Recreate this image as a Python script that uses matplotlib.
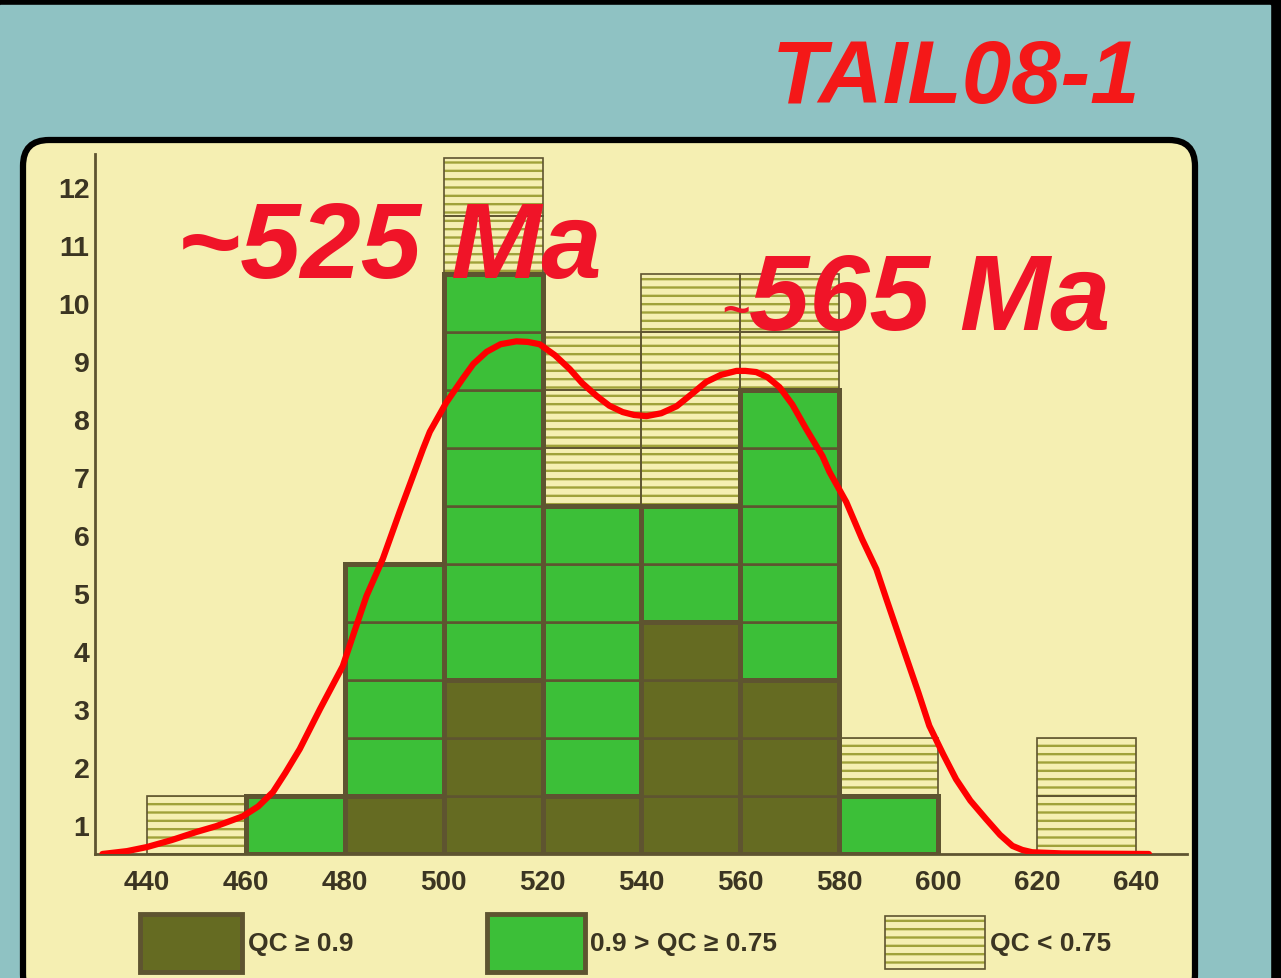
import matplotlib.pyplot as plt
from matplotlib.patches import FancyBboxPatch, Rectangle

# histogram bins (left edges, Ma) and counts per quality class
bin_left = [440, 460, 480, 500, 520, 540, 560, 580, 600, 620]
qc_high = [0, 0, 1, 3, 1, 4, 3, 0, 0, 0]   # QC >= 0.9
qc_mid = [0, 1, 4, 7, 5, 2, 5, 1, 0, 0]    # 0.9 > QC >= 0.75
qc_low = [1, 0, 0, 2, 3, 4, 2, 1, 0, 2]    # QC < 0.75
bin_width = 20

# probability density curve
kde_age = [431, 436, 440, 445, 450, 454, 459.4, 462.5, 465.5, 468, 470.9, 475, 479.6,
           482, 484.4, 487.7, 491.1, 493.5, 495.8, 497.2, 500.5, 503.8, 506, 508.7,
           511.5, 514.7, 517, 519.4, 522.5, 525.5, 528, 530.9, 533.5, 536.2, 538.5,
           541, 544, 547.1, 550, 553.1, 556, 559.2, 561, 563.2, 565.5, 567.9, 570.5,
           573.3, 576.6, 578, 581.4, 584.6, 587.5, 589.5, 593.5, 596, 598.2, 601,
           603.6, 606.5, 609.7, 612.5, 615, 617, 619, 625, 642.6]
kde_count = [0.0, 0.05, 0.12, 0.24, 0.38, 0.48, 0.65, 0.82, 1.07, 1.4, 1.81, 2.5, 3.24,
             3.85, 4.45, 5.09, 5.9, 6.45, 6.98, 7.28, 7.78, 8.19, 8.45, 8.66,
             8.79, 8.84, 8.83, 8.79, 8.6, 8.36, 8.12, 7.9, 7.73, 7.62, 7.57,
             7.55, 7.6, 7.72, 7.92, 8.14, 8.26, 8.33, 8.33, 8.31, 8.22, 8.05, 7.75,
             7.33, 6.86, 6.59, 6.07, 5.43, 4.91, 4.4, 3.4, 2.78, 2.21, 1.72,
             1.29, 0.92, 0.6, 0.33, 0.14, 0.07, 0.03, 0.01, 0.0]

x_ticks = [440, 460, 480, 500, 520, 540, 560, 580, 600, 620, 640]
y_labels = [str(i) for i in range(1, 13)]
legend_labels = ["QC \u2265 0.9", "0.9 > QC \u2265 0.75", "QC < 0.75"]

TEAL = "#8fc2c3"
PANEL = "#f5efb2"
EDGE = "#5e5430"
DARK = "#656b22"
GREEN = "#3cbf38"
HATCH = "#a0a23a"
TXT = "#3b3522"
RED = "#f01428"

plt.rcParams["hatch.linewidth"] = 1.7
plt.rcParams["font.family"] = ["Liberation Sans", "DejaVu Sans"]

W, H = 1281, 979
fig = plt.figure(figsize=(W / 100, H / 100), dpi=100)
fig.patch.set_facecolor("black")

# background: teal page with rounded yellow panel
bg = fig.add_axes([0, 0, 1, 1], zorder=0)
bg.set_xlim(0, W)
bg.set_ylim(H, 0)
bg.axis("off")
bg.add_patch(Rectangle((0, 6), 1270, H, color=TEAL))
bg.add_patch(FancyBboxPatch((23, 141), 1172, 860,
                            boxstyle="round,pad=0,rounding_size=26",
                            fc=PANEL, ec="black", lw=4.5))

bg.text(772, 103, "TAIL08-1", color="#f41818", fontsize=64, fontweight="bold",
        fontstyle="italic", va="baseline", ha="left")

# legend keys
bg.add_patch(Rectangle((140, 915), 102, 58, fc=DARK, ec=EDGE, lw=3.5))
bg.add_patch(Rectangle((487, 915), 98, 58, fc=GREEN, ec=EDGE, lw=3.5))
bg.add_patch(Rectangle((885, 917), 100, 53, fc=PANEL, ec=HATCH, lw=0, hatch="--"))
bg.add_patch(Rectangle((885, 917), 100, 53, fill=False, ec=EDGE, lw=1.2))
for xt, lab in zip([248, 590, 990], legend_labels):
    bg.text(xt, 944, lab, color=TXT, fontsize=19, fontweight="bold",
            va="center", ha="left")

# main histogram axes
ax = fig.add_axes([95 / W, 1 - 855 / H, 1092 / W, 700 / H], zorder=1)
ax.set_facecolor("none")
ax.set_xlim(429.5, 650.3)
ax.set_ylim(0, 12.07)


def draw_units(counts, bottoms, face, hatched=False):
    for x, n, b in zip(bin_left, counts, bottoms):
        for j in range(n):
            if hatched:
                ax.bar(x, 1, width=bin_width, bottom=b + j, align="edge",
                       color=PANEL, edgecolor=HATCH, linewidth=0, hatch="--", zorder=2)
                ax.bar(x, 1, width=bin_width, bottom=b + j, align="edge",
                       fill=False, edgecolor=EDGE, linewidth=1.2, zorder=3)
            else:
                ax.bar(x, 1, width=bin_width, bottom=b + j, align="edge",
                       color=face, edgecolor=EDGE, linewidth=1.8, zorder=2)


mid_bottom = qc_high
low_bottom = [a + b for a, b in zip(qc_high, qc_mid)]
draw_units(qc_high, [0] * len(bin_left), DARK)
draw_units(qc_mid, mid_bottom, GREEN)
draw_units(qc_low, low_bottom, None, hatched=True)

# heavier outline around each solid class block
for x, n, b in zip(bin_left + bin_left, qc_high + qc_mid, [0] * len(bin_left) + mid_bottom):
    if n > 0:
        ax.bar(x, n, width=bin_width, bottom=b, align="edge", fill=False,
               edgecolor=EDGE, linewidth=3.6, zorder=4)

ax.plot(kde_age, kde_count, color="#ff0000", lw=4.5, solid_joinstyle="round",
        solid_capstyle="round", zorder=5)

ax.text(446, 9.95, "~525 Ma", color=RED, fontsize=78, fontweight="bold",
        fontstyle="italic", va="baseline", ha="left", zorder=6)
ax.text(561.8, 9.14, "~", color=RED, fontsize=34, fontweight="bold",
        fontstyle="italic", va="baseline", ha="right", zorder=6)
ax.text(561.8, 9.05, "565 Ma", color=RED, fontsize=78, fontweight="bold",
        fontstyle="italic", va="baseline", ha="left", zorder=6)

for s in ["top", "right"]:
    ax.spines[s].set_visible(False)
for s in ["left", "bottom"]:
    ax.spines[s].set_color(EDGE)
    ax.spines[s].set_linewidth(2)

ax.set_xticks(x_ticks)
ax.set_xticklabels([str(v) for v in x_ticks], fontweight="bold")
ax.set_yticks([i + 0.5 for i in range(len(y_labels))])
ax.set_yticklabels(y_labels, fontweight="bold")
ax.tick_params(axis="x", length=0, pad=11, labelsize=20, labelcolor=TXT)
ax.tick_params(axis="y", length=0, pad=4, labelsize=20.5, labelcolor=TXT)

fig.savefig("out.png", dpi=100)
